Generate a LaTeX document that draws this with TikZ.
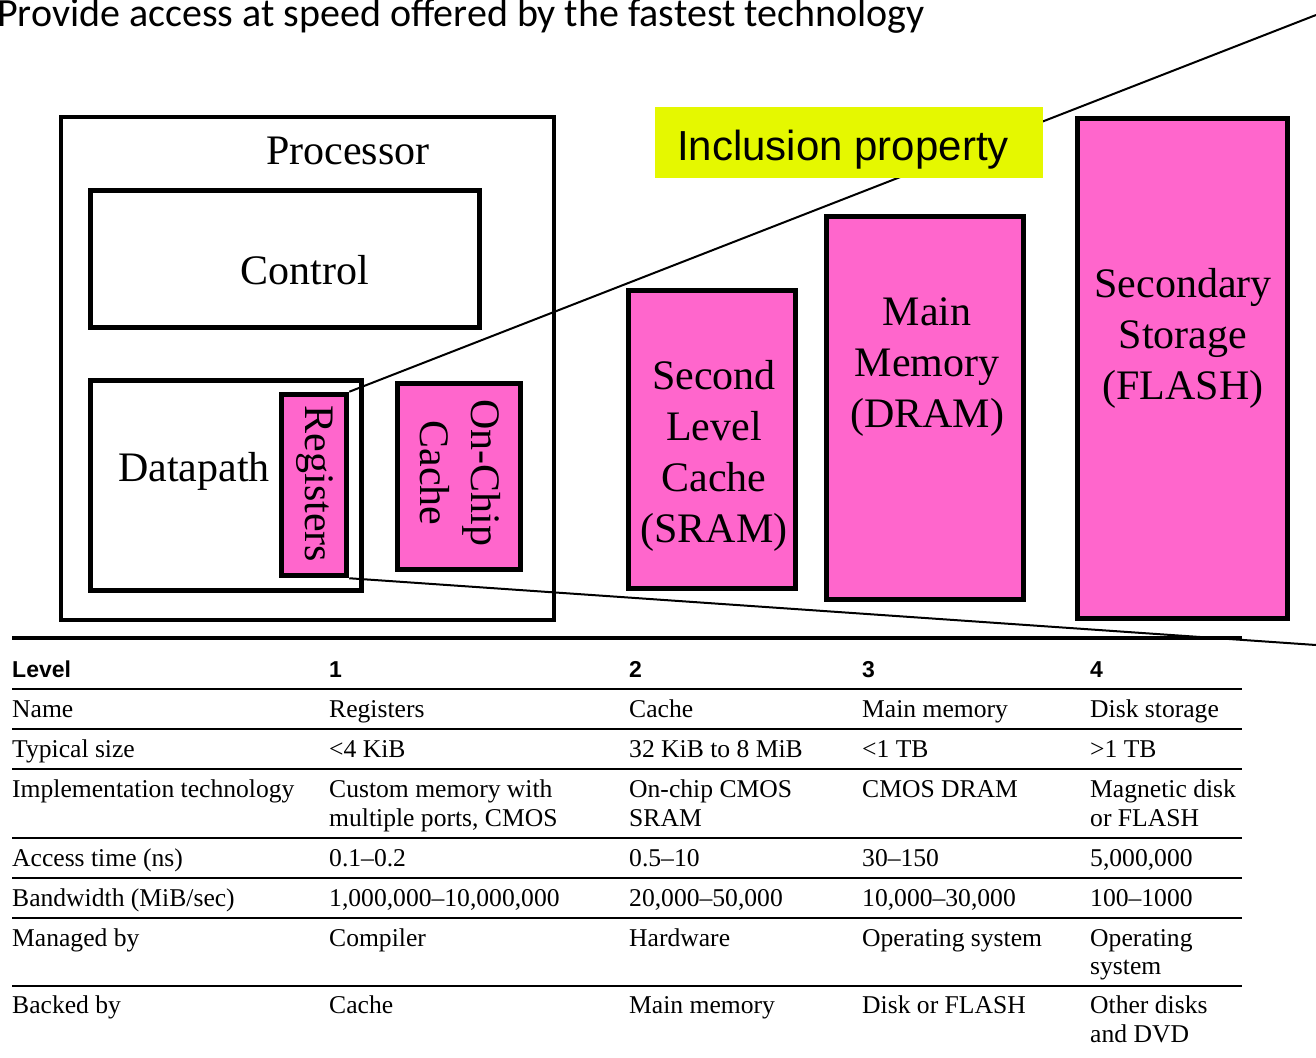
\documentclass[tikz,border=0pt]{standalone}
\usepackage{fontspec}
\setmainfont{Liberation Serif}
\newfontfamily\titlefont{Carlito}
\newfontfamily\labelfont{Liberation Sans}

\definecolor{memPink}{RGB}{255,102,204}
\definecolor{tagYellow}{RGB}{229,248,0}

\begin{document}
\begin{tikzpicture}[x=1pt,y=-1pt,
  outerframe/.style={draw, line width=4pt, fill=white, inner sep=0pt},
  unitbox/.style={draw, line width=5pt, fill=white, inner sep=0pt},
  membox/.style={draw, line width=5.5pt, fill=memPink, inner sep=0pt},
  tagbox/.style={fill=tagYellow, inner sep=0pt},
  bigtext/.style={inner sep=0pt, font=\fontsize{42}{51}\selectfont, align=center},
  link/.style={line width=2pt},
  cell/.style={anchor=base west, inner sep=0pt, font=\fontsize{25.6}{29}\selectfont},
  head/.style={anchor=base west, inner sep=0pt, font=\labelfont\bfseries\fontsize{23}{27}\selectfont},
  thickrule/.style={line width=4pt},
  thinrule/.style={line width=2pt}
]
\useasboundingbox (0,0) rectangle (1316,1057);

% heading line
\node[anchor=base west, inner sep=0pt, font=\titlefont\fontsize{40}{48}\selectfont]
  (title) at (-3,27) {Provide access at speed offered by the fastest technology};

% processor with its parts
\node[outerframe, minimum width=493pt, minimum height=503pt] (proc) at (307.5,368.5) {};
\node[unitbox, minimum width=389pt, minimum height=137pt] (ctrl) at (285,259) {};
\node[unitbox, minimum width=271pt, minimum height=210pt] (dpath) at (226,485.5) {};
\node[membox, minimum width=65pt, minimum height=181pt] (reg) at (314,485) {};
\node[membox, minimum width=123pt, minimum height=186pt] (l1) at (459,476.5) {};

\node[bigtext, anchor=base] (procLbl) at (348,164) {Processor};
\node[bigtext, anchor=base] (ctrlLbl) at (305,284) {Control};
\node[bigtext, anchor=base] (dpathLbl) at (194,481) {Datapath};
\node[bigtext, rotate=-90] (regLbl) at (315,484) {Registers};
\node[bigtext, rotate=-90] (l1Lbl) at (460,473) {On-Chip\\Cache};

% outer levels of the hierarchy
\node[membox, minimum width=167pt, minimum height=298pt] (l2) at (712,439.5) {};
\node[membox, minimum width=197pt, minimum height=383pt] (dram) at (925,408) {};
\node[membox, minimum width=210pt, minimum height=500pt] (flash) at (1182.5,368.5) {};

\node[bigtext] (l2Lbl) at (714,456) {Second\\Level\\Cache\\(SRAM)};
\node[bigtext] (dramLbl) at (927,367) {Main\\Memory\\(DRAM)};
\node[bigtext] (flashLbl) at (1183,338) {Secondary\\Storage\\(FLASH)};

% widening cone from the registers
\coordinate (farTop) at (1316,15);
\coordinate (farBot) at (1316,645);
\draw[link] (reg.north east) -- (farTop);
\draw[link] (reg.south east) -- (farBot);

% tag
\node[tagbox, minimum width=388pt, minimum height=71pt] (tag) at (849,142.5) {};
\node[anchor=base, inner sep=0pt, font=\labelfont\fontsize{42}{48}\selectfont]
  (tagLbl) at (843,160) {Inclusion property};

% table rules
\draw[thickrule] (12,638) -- (1242,638);
\foreach \ry in {689,729,769,838,878,918,986}
  \draw[thinrule] (12,\ry) -- (1242,\ry);

% table header
\node[head] (hLevel) at (12,677) {Level};
\node[head] (h1) at (329,677) {1};
\node[head] (h2) at (629,677) {2};
\node[head] (h3) at (862,677) {3};
\node[head] (h4) at (1090,677) {4};

% table body
\node[cell] (n0) at (12,717) {Name};
\node[cell] (n1) at (329,717) {Registers};
\node[cell] (n2) at (629,717) {Cache};
\node[cell] (n3) at (862,717) {Main memory};
\node[cell] (n4) at (1090,717) {Disk storage};

\node[cell] (s0) at (12,757.5) {Typical size};
\node[cell] (s1) at (329,757.5) {<4 KiB};
\node[cell] (s2) at (629,757.5) {32 KiB to 8 MiB};
\node[cell] (s3) at (862,757.5) {<1 TB};
\node[cell] (s4) at (1090,757.5) {>1 TB};

\node[cell] (t0) at (12,797.5) {Implementation technology};
\node[cell] (t1) at (329,797.5) {Custom memory with};
\node[cell] (t1b) at (329,826.5) {multiple ports, CMOS};
\node[cell] (t2) at (629,797.5) {On-chip CMOS};
\node[cell] (t2b) at (629,826.5) {SRAM};
\node[cell] (t3) at (862,797.5) {CMOS DRAM};
\node[cell] (t4) at (1090,797.5) {Magnetic disk};
\node[cell] (t4b) at (1090,826.5) {or FLASH};

\node[cell] (a0) at (12,866.5) {Access time (ns)};
\node[cell] (a1) at (329,866.5) {0.1–0.2};
\node[cell] (a2) at (629,866.5) {0.5–10};
\node[cell] (a3) at (862,866.5) {30–150};
\node[cell] (a4) at (1090,866.5) {5,000,000};

\node[cell] (b0) at (12,906.5) {Bandwidth (MiB/sec)};
\node[cell] (b1) at (329,906.5) {1,000,000–10,000,000};
\node[cell] (b2) at (629,906.5) {20,000–50,000};
\node[cell] (b3) at (862,906.5) {10,000–30,000};
\node[cell] (b4) at (1090,906.5) {100–1000};

\node[cell] (m0) at (12,946.5) {Managed by};
\node[cell] (m1) at (329,946.5) {Compiler};
\node[cell] (m2) at (629,946.5) {Hardware};
\node[cell] (m3) at (862,946.5) {Operating system};
\node[cell] (m4) at (1090,946.5) {Operating};
\node[cell] (m4b) at (1090,974.5) {system};

\node[cell] (k0) at (12,1013.5) {Backed by};
\node[cell] (k1) at (329,1013.5) {Cache};
\node[cell] (k2) at (629,1013.5) {Main memory};
\node[cell] (k3) at (862,1013.5) {Disk or FLASH};
\node[cell] (k4) at (1090,1013.5) {Other disks};
\node[cell] (k4b) at (1090,1042) {and DVD};
\end{tikzpicture}
\end{document}
